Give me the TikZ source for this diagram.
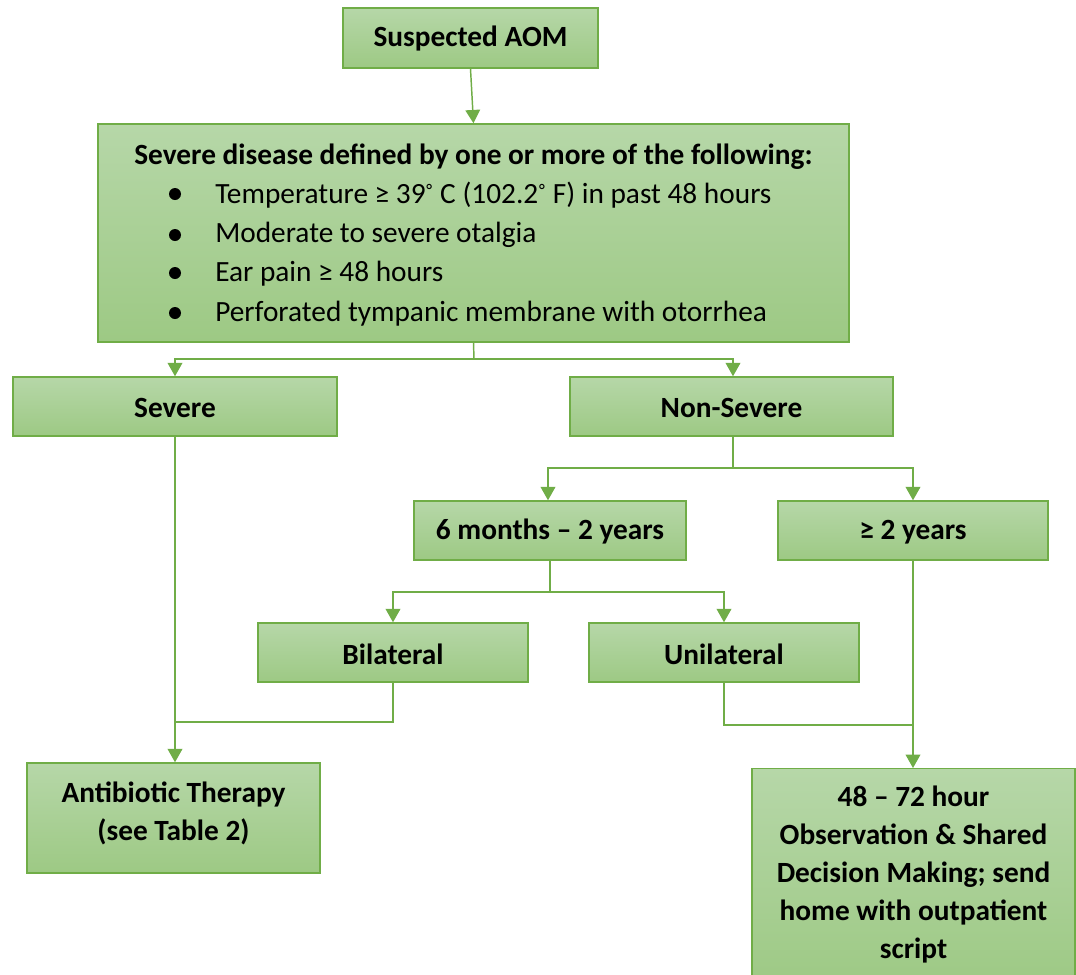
\documentclass[tikz,border=0pt]{standalone}
\usepackage{fontspec}
\setmainfont{Carlito}
\usetikzlibrary{arrows.meta}
\definecolor{gline}{HTML}{70AD47}
\definecolor{gtop}{HTML}{B6D7A8}
\definecolor{gbot}{HTML}{9DC984}
\tikzset{
  box/.style={draw=gline, line width=1.1pt, top color=gtop, bottom color=gbot, rectangle, inner sep=0pt, align=center, font=\fontsize{22}{28.5}\selectfont\bfseries},
  conn/.style={draw=gline, line width=1.1pt},
  arr/.style={conn, -{Triangle[width=11pt,length=10pt]}},
  txt/.style={inner sep=0pt, font=\fontsize{22}{28.5}\selectfont, anchor=west},
  btxt/.style={inner sep=0pt, align=center, font=\fontsize{22}{28.5}\selectfont\bfseries},
}
\begin{document}
\begin{tikzpicture}[x=0.75pt,y=-0.75pt]
\useasboundingbox (0,0) rectangle (1076,975);
\node[box, minimum width=255*0.75pt, minimum height=60*0.75pt] (aom) at (470.5,38) {};
\node[btxt] (aomt) at (470.5,39) {Suspected AOM};
\node[box, minimum width=751*0.75pt, minimum height=218*0.75pt] (def) at (473.5,233) {};
\node[btxt] (title) at (473.5,157) {Severe disease defined by one or more of the following:};
\node[txt] (b1) at (215,195) {Temperature ≥ 39\textsuperscript{◦} C (102.2\textsuperscript{◦} F) in past 48 hours};
\node[txt] (b2) at (215,235) {Moderate to severe otalgia};
\node[txt] (b3) at (215,274) {Ear pain ≥ 48 hours};
\node[txt] (b4) at (215,314) {Perforated tympanic membrane with otorrhea};
\foreach \y/\n in {194/d1,235/d2,273/d3,313/d4}
  \fill (175,\y) circle[radius=6] coordinate (\n);
\node[box, minimum width=324*0.75pt, minimum height=59*0.75pt] (severe) at (175,406.5) {};
\node[btxt] at (175,408) {Severe};
\node[box, minimum width=323*0.75pt, minimum height=59*0.75pt] (nonsev) at (731.5,406.5) {};
\node[btxt] at (731.5,408) {Non-Severe};
\node[box, minimum width=272*0.75pt, minimum height=59*0.75pt] (six) at (550,530.5) {};
\node[btxt] at (550,532) {6 months – 2 years};
\node[box, minimum width=270*0.75pt, minimum height=59*0.75pt] (two) at (913,530.5) {};
\node[btxt] at (913,532) {≥ 2 years};
\node[box, minimum width=270*0.75pt, minimum height=59*0.75pt] (bil) at (393,652.5) {};
\node[btxt] at (393,654) {Bilateral};
\node[box, minimum width=270*0.75pt, minimum height=59*0.75pt] (uni) at (724,652.5) {};
\node[btxt] at (724,654) {Unilateral};
\node[box, minimum width=293*0.75pt, minimum height=110*0.75pt] (anti) at (173.5,818) {};
\node[btxt] (antit) at (173.5,813) {Antibiotic Therapy\\(see Table 2)};
\node[box, minimum width=323*0.75pt, minimum height=220*0.75pt, anchor=north] (obs) at (913.5,768) {};
\node[btxt] (obst) at (913.5,875) {48 – 72 hour\\Observation \& Shared\\Decision Making; send\\home with outpatient\\script};
% connectors
\coordinate (j1) at (474,359);
\draw[arr] (aom.south) -- (def.north);
\draw[conn] (def.south) -- (j1);
\draw[arr] (j1) -| (severe.north);
\draw[arr] (j1) -| ([xshift=1.5*0.75pt]nonsev.north);
\coordinate (j2) at (733,468);
\draw[conn] ([xshift=1.5*0.75pt]nonsev.south) -- (j2);
\draw[arr] (j2) -| ([xshift=-2*0.75pt]six.north);
\draw[arr] (j2) -| (two.north);
\coordinate (j3) at (550,592);
\draw[conn] (six.south) -- (j3);
\draw[arr] (j3) -| (bil.north);
\draw[arr] (j3) -| (uni.north);
\coordinate (j4) at (175,722);
\draw[arr] (severe.south) -- ([xshift=1.5*0.75pt]anti.north);
\draw[conn] (bil.south) |- (j4);
\coordinate (j5) at (913,725);
\draw[arr] (two.south) -- ([xshift=-0.5*0.75pt]obs.north);
\draw[conn] (uni.south) |- (j5);
\end{tikzpicture}
\end{document}
